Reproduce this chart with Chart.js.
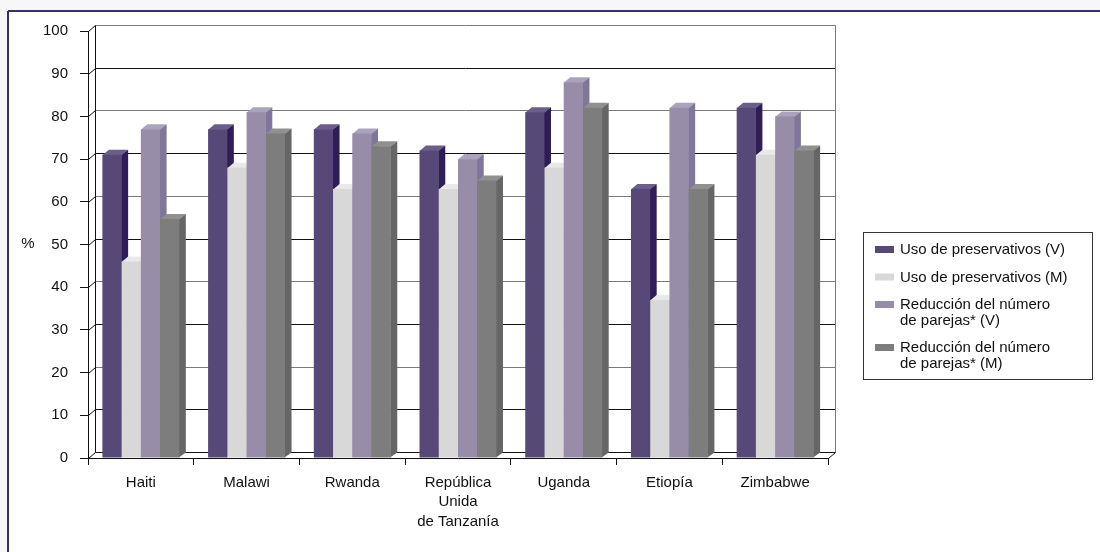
<!DOCTYPE html>
<html>
<head>
<meta charset="utf-8">
<script src="https://cdn.jsdelivr.net/npm/chart.js@4.4.0/dist/chart.umd.min.js"></script>
<style>
  html, body { margin: 0; padding: 0; background: #f7f7f7; }
  #wrap { width: 1100px; height: 552px; }
  canvas { display: block; }
</style>
</head>
<body>
<div id="wrap"><canvas id="chart" width="1100" height="552"></canvas></div>
<script>
// Categories and series values (percent)
const countries = ['Haiti', 'Malawi', 'Rwanda', ['República', 'Unida', 'de Tanzanía'], 'Uganda', 'Etiopía', 'Zimbabwe'];
const seriesNames = [
  'Uso de preservativos (V)',
  'Uso de preservativos (M)',
  'Reducción del número\nde parejas* (V)',
  'Reducción del número\nde parejas* (M)'
];
const condomMen     = [71, 77, 77, 72, 81, 63, 82];
const condomWomen   = [46, 68, 63, 63, 68, 37, 71];
const partnersMen   = [77, 81, 76, 70, 88, 82, 80];
const partnersWomen = [56, 76, 73, 65, 82, 63, 72];
const yTickValues = [0, 10, 20, 30, 40, 50, 60, 70, 80, 90, 100];
const axisTitle = '%';

// Face colours for the extruded columns: front, top, side
const frontColors = ['#564977', '#d8d8d8', '#978da9', '#7c7d7c'];
const topColors   = ['#6b5e8a', '#e9e9e9', '#aba3bd', '#909090'];
const sideColors  = ['#2f1e55', '#c4c4c4', '#80769a', '#666666'];

const FONT = "'Liberation Sans', Arial, sans-serif";
Chart.defaults.font.family = FONT;
Chart.defaults.font.size = 15;
Chart.defaults.color = '#111';

const WALL_DX = 7, WALL_DY = 6;   // depth of the back wall
const BAR_DX = 6.5, BAR_DY = 5;   // depth of each column

function line(ctx, x1, y1, x2, y2) {
  ctx.beginPath(); ctx.moveTo(x1, y1); ctx.lineTo(x2, y2); ctx.stroke();
}
function poly(ctx, pts, color) {
  ctx.beginPath();
  ctx.moveTo(pts[0][0], pts[0][1]);
  for (let i = 1; i < pts.length; i++) ctx.lineTo(pts[i][0], pts[i][1]);
  ctx.closePath();
  ctx.fillStyle = color;
  ctx.fill();
}

// Page frame behind the chart
const framePlugin = {
  id: 'frame',
  beforeDraw(chart) {
    const ctx = chart.ctx;
    ctx.save();
    ctx.fillStyle = '#f7f7f7';
    ctx.fillRect(0, 0, chart.width, chart.height);
    ctx.fillStyle = '#ffffff';
    ctx.fillRect(8, 11, chart.width - 8, chart.height - 11);
    ctx.strokeStyle = '#3a2f6c';
    ctx.lineWidth = 2;
    line(ctx, 8, 11, chart.width, 11);
    line(ctx, 8, 11, 8, chart.height);
    ctx.restore();
  }
};

// Walls, floor and extruded columns
const depthPlugin = {
  id: 'depth',
  beforeDatasetsDraw(chart) {
    const ctx = chart.ctx;
    const a = chart.chartArea;
    const ys = chart.scales.y;
    ctx.save();
    ctx.lineWidth = 1;
    const L = a.left + 0.5, R = Math.round(a.right) + 0.5;
    yTickValues.forEach(v => {
      const py = Math.round(ys.getPixelForValue(v)) + 0.5;
      ctx.strokeStyle = (v % 20 === 0 && v > 0) ? '#7a7a7a' : '#111';
      line(ctx, L + WALL_DX, py - WALL_DY, R + WALL_DX, py - WALL_DY);
      ctx.strokeStyle = '#111';
      line(ctx, L, py, L + WALL_DX, py - WALL_DY);
    });
    const top = Math.round(ys.getPixelForValue(100)) + 0.5;
    const bot = Math.round(ys.getPixelForValue(0)) + 0.5;
    ctx.strokeStyle = '#111';
    line(ctx, L + WALL_DX, top - WALL_DY, L + WALL_DX, bot - WALL_DY);
    ctx.strokeStyle = '#7a7a7a';
    line(ctx, R + WALL_DX, top - WALL_DY, R + WALL_DX, bot - WALL_DY);
    ctx.strokeStyle = '#111';
    line(ctx, R, bot, R + WALL_DX, bot - WALL_DY);

    // columns: per category, series left to right so each front hides the previous side
    const metas = chart.data.datasets.map((d, i) => chart.getDatasetMeta(i));
    for (let i = 0; i < countries.length; i++) {
      metas.forEach((meta, d) => {
        const el = meta.data[i];
        const p = el.getProps(['x', 'y', 'base', 'width'], true);
        const l = p.x - p.width / 2, r = p.x + p.width / 2;
        poly(ctx, [[r - 0.5, p.y], [r + BAR_DX, p.y - BAR_DY], [r + BAR_DX, p.base - BAR_DY], [r - 0.5, p.base]], sideColors[d]);
        poly(ctx, [[l, p.y + 0.5], [r, p.y + 0.5], [r + BAR_DX, p.y - BAR_DY], [l + BAR_DX, p.y - BAR_DY]], topColors[d]);
        ctx.fillStyle = frontColors[d];
        ctx.fillRect(l, p.y, r - l, p.base - p.y);
      });
    }
    ctx.restore();
    return false;
  },
  afterDraw(chart) {
    const ctx = chart.ctx;
    ctx.save();
    // axis title
    ctx.fillStyle = '#111';
    ctx.font = '15px ' + FONT;
    ctx.textAlign = 'center';
    ctx.textBaseline = 'middle';
    ctx.fillText(axisTitle, 28, 244);

    // legend box
    ctx.strokeStyle = '#333';
    ctx.lineWidth = 1;
    ctx.strokeRect(863.5, 232.5, 229, 147);
    ctx.textAlign = 'left';
    let y = 250;
    chart.data.datasets.forEach((ds, d) => {
      const lines = ds.label.split('\n');
      ctx.fillStyle = frontColors[d];
      ctx.fillRect(875, y - 4, 19, 7);
      ctx.fillStyle = '#111';
      lines.forEach((t, k) => ctx.fillText(t, 900, y + k * 15.5));
      y += (lines.length - 1) * 15.5 + 27.5;
    });
    ctx.restore();
  }
};

const values = [condomMen, condomWomen, partnersMen, partnersWomen];

new Chart(document.getElementById('chart'), {
  type: 'bar',
  data: {
    labels: countries,
    datasets: values.map((vals, d) => ({
      label: seriesNames[d],
      data: vals,
      backgroundColor: frontColors[d],
      borderWidth: 0,
      categoryPercentage: 0.728,
      barPercentage: 1.0
    }))
  },
  options: {
    responsive: false,
    animation: false,
    devicePixelRatio: 1,
    layout: { padding: { top: 31, right: 272, bottom: 0, left: 0 } },
    plugins: { legend: { display: false }, tooltip: { enabled: false } },
    scales: {
      x: {
        offset: true,
        grid: { display: true, drawOnChartArea: false, offset: true, tickLength: 7, color: '#111', tickWidth: 1 },
        border: { display: true, color: '#111', width: 1 },
        ticks: { padding: 8, maxRotation: 0, autoSkip: false, color: '#111', font: { size: 15, lineHeight: 1.3 } },
        afterFit(scale) { scale.height = 94; }
      },
      y: {
        min: 0, max: 100,
        afterBuildTicks(scale) { scale.ticks = yTickValues.map(v => ({ value: v })); },
        grid: { display: true, drawOnChartArea: false, tickLength: 8, color: '#111' },
        border: { display: true, color: '#111', width: 1 },
        ticks: { padding: 12, color: '#111', font: { size: 15 } },
        afterFit(scale) { scale.width = 88; }
      }
    }
  },
  plugins: [framePlugin, depthPlugin]
});
</script>
</body>
</html>
